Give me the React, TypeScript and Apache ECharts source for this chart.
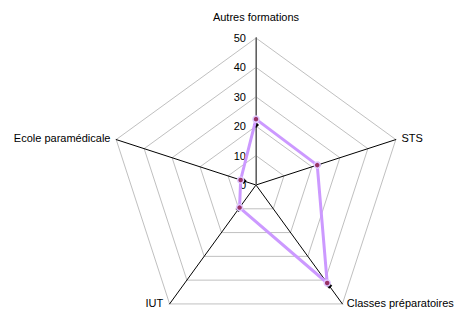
import React, { useEffect, useRef } from "react";
import * as echarts from "echarts";

// Indicators in ECharts radar order (top first, then counter-clockwise)
const categories = ["Autres formations", "Ecole paramédicale", "IUT", "Classes préparatoires", "STS"];
const seriesA = [22.4, 5.5, 9.5, 41.2, 21.9];
const seriesB = [20.4, 4.4, 10.1, 42.4, 22.3];
const tickValues = [0, 10, 20, 30, 40, 50];

const FONT = "Liberation Sans, Arial, sans-serif";
const lowerNames = ["IUT", "Classes préparatoires"];

export default function App() {
  const ref = useRef<HTMLDivElement>(null);
  useEffect(() => {
    if (!ref.current) return;
    const chart = echarts.init(ref.current, null, { renderer: "svg" });
    const maxV = tickValues[tickValues.length - 1];
    const nameStyle = { color: "#000", fontSize: 11, fontFamily: FONT };
    chart.setOption({
      animation: false,
      backgroundColor: "#ffffff",
      radar: [
        {
          center: [256, 185],
          radius: 147,
          startAngle: 90,
          splitNumber: tickValues.length - 1,
          shape: "polygon",
          nameGap: 6,
          indicator: categories.map((name) => ({ name, min: 0, max: maxV })),
          axisName: {
            ...nameStyle,
            formatter: (name: string) => {
              if (lowerNames.includes(name)) return "";
              if (name === categories[0]) return "{top|" + name + "}";
              return name;
            },
            rich: { top: { ...nameStyle, padding: [0, 0, 10, 0] } },
          },
          axisLine: { lineStyle: { color: "#000", width: 1 } },
          splitLine: { lineStyle: { color: "#c0c0c0", width: 1 } },
          splitArea: { show: false },
          axisTick: { show: false },
          axisLabel: { show: false },
        },
        {
          center: [256, 185],
          radius: 147,
          startAngle: 90,
          splitNumber: tickValues.length - 1,
          shape: "polygon",
          nameGap: -1,
          indicator: categories.map((name) => ({ name, min: 0, max: maxV })),
          axisName: {
            ...nameStyle,
            formatter: (name: string) => {
              if (name === lowerNames[0]) return "{l|" + name + "}";
              if (name === lowerNames[1]) return "{r|" + name + "}";
              return "";
            },
            rich: {
              l: { ...nameStyle, padding: [0, 7, 0, 0] },
              r: { ...nameStyle, padding: [0, 0, 0, 5] },
            },
          },
          axisLine: { show: false },
          splitLine: { show: false },
          splitArea: { show: false },
          axisTick: { show: false },
          axisLabel: { show: false },
        },
      ],
      grid: { left: 256, top: 38, width: 1, height: 147, z: 10 },
      xAxis: { type: "value", show: false, min: 0, max: 1 },
      yAxis: {
        type: "value",
        min: 0,
        max: maxV,
        interval: 10,
        z: 10,
        axisLine: { show: true, lineStyle: { color: "#808080", width: 1.5 } },
        axisTick: { show: false },
        splitLine: { show: false },
        axisLabel: { color: "#000", fontSize: 11, fontFamily: FONT, margin: 10 },
      },
      series: [
        {
          type: "line",
          xAxisIndex: 0,
          yAxisIndex: 0,
          data: [],
          silent: true,
        },
        {
          type: "radar",
          radarIndex: 0,
          z: 12,
          symbol: "diamond",
          symbolSize: 6,
          itemStyle: { color: "#000" },
          lineStyle: { width: 0, opacity: 0 },
          data: [{ value: seriesB }],
        },
        {
          type: "radar",
          radarIndex: 0,
          z: 13,
          symbol: "circle",
          symbolSize: 6,
          itemStyle: { color: "#993366", borderColor: "#e0c8ff", borderWidth: 1.5 },
          lineStyle: { color: "#cc99ff", width: 3 },
          data: [{ value: seriesA }],
        },
      ],
    });
    return () => chart.dispose();
  }, []);
  return (
    <div
      ref={ref}
      style={{ position: "fixed", left: 0, top: 0, width: 460, height: 311, background: "#fff" }}
    />
  );
}
